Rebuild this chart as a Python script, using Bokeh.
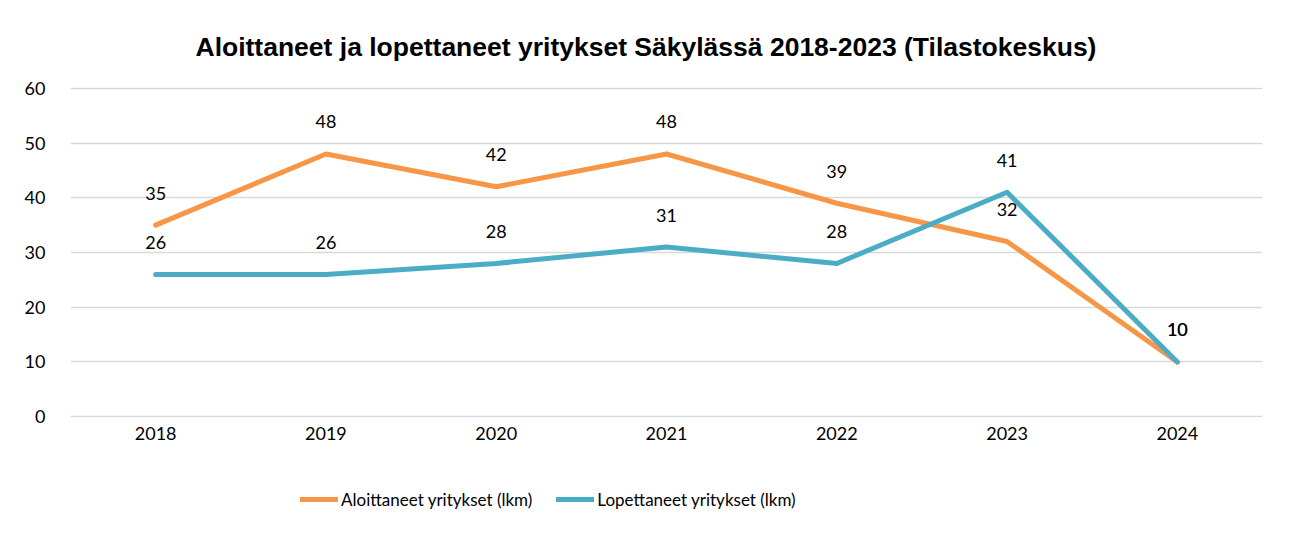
from bokeh.plotting import figure
from bokeh.layouts import column
from bokeh.models import (FactorRange, Range1d, FixedTicker, ColumnDataSource,
                          LabelSet, Legend, LegendItem)
from bokeh.core.properties import value
from bokeh.embed import file_html
from bokeh.resources import INLINE

years = ["2018", "2019", "2020", "2021", "2022", "2023", "2024"]
aloittaneet = [35, 48, 42, 48, 39, 32, 10]
lopettaneet = [26, 26, 28, 31, 28, 41, 10]
y_ticks = [0, 10, 20, 30, 40, 50, 60]

title_text = "Aloittaneet ja lopettaneet yritykset Säkylässä 2018-2023 (Tilastokeskus)"
name_a = "Aloittaneet yritykset (lkm)"
name_l = "Lopettaneet yritykset (lkm)"

ORANGE = "#F79646"
BLUE = "#4BACC6"
FONT = "Lato"

src = ColumnDataSource(dict(year=years, a=aloittaneet, l=lopettaneet,
                            a_txt=[str(v) for v in aloittaneet],
                            l_txt=[str(v) for v in lopettaneet]))

W = 1274
p = figure(width=W, height=460,
           x_range=FactorRange(*years, range_padding=0),
           y_range=Range1d(-0.15, 60.15),
           output_backend="svg", toolbar_location=None,
           min_border_left=70, min_border_right=12,
           min_border_top=87, min_border_bottom=43)

p.title.text = title_text
p.title.align = "left"
p.title.text_font = "Liberation Sans"
p.title.text_font_style = "bold"
p.title.text_font_size = "26.5px"
p.title.text_color = "#000000"
p.title.offset = 125
p.title.standoff = 52

p.outline_line_color = None
p.background_fill_color = "white"
p.border_fill_color = "white"

p.xgrid.grid_line_color = None
p.ygrid.grid_line_color = "#D9D9D9"
p.ygrid.grid_line_width = 1.5
p.ygrid.ticker = FixedTicker(ticks=y_ticks)

p.yaxis.ticker = FixedTicker(ticks=y_ticks)
for ax in (p.xaxis[0], p.yaxis[0]):
    ax.axis_line_color = None
    ax.major_tick_line_color = None
    ax.minor_tick_line_color = None
    ax.major_tick_out = 0
    ax.major_label_text_font = FONT
    ax.major_label_text_font_size = "18px"
    ax.major_label_text_color = "#000000"
p.yaxis.major_label_standoff = 25
p.xaxis.major_label_standoff = 9

r_a = p.line("year", "a", source=src, line_color=ORANGE, line_width=5,
             line_cap="round", line_join="round")
r_l = p.line("year", "l", source=src, line_color=BLUE, line_width=5,
             line_cap="round", line_join="round")

for col in ("a_txt", "l_txt"):
    ycol = col[0]
    p.add_layout(LabelSet(x="year", y=ycol, text=col, source=src,
                          y_offset=32, text_align="center",
                          text_baseline="middle", text_font=value(FONT),
                          text_font_size="18px", text_color="#000000"))

# legend strip below the chart (same series, drawn outside its visible range)
q = figure(width=W, height=57,
           x_range=FactorRange(*years, range_padding=0),
           y_range=Range1d(1000, 1001),
           output_backend="svg", toolbar_location=None,
           min_border=0, x_axis_location=None, y_axis_location=None)
q.grid.visible = False
q.outline_line_color = None
q.background_fill_color = "white"
q.border_fill_color = "white"
la = q.line("year", "a", source=src, line_color=ORANGE, line_width=5,
            line_cap="round")
ll = q.line("year", "l", source=src, line_color=BLUE, line_width=5,
            line_cap="round")

legend = Legend(items=[LegendItem(label=name_a, renderers=[la]),
                       LegendItem(label=name_l, renderers=[ll])],
                orientation="horizontal", location=(230, 7),
                glyph_width=38, glyph_height=22, label_standoff=3,
                spacing=24, label_text_font=FONT, label_text_font_size="17px",
                label_text_color="#000000",
                border_line_color=None, background_fill_alpha=0,
                margin=0, padding=0)
q.add_layout(legend, "center")

layout = column(p, q, spacing=0)
open("out.html", "w").write(file_html(layout, INLINE))
